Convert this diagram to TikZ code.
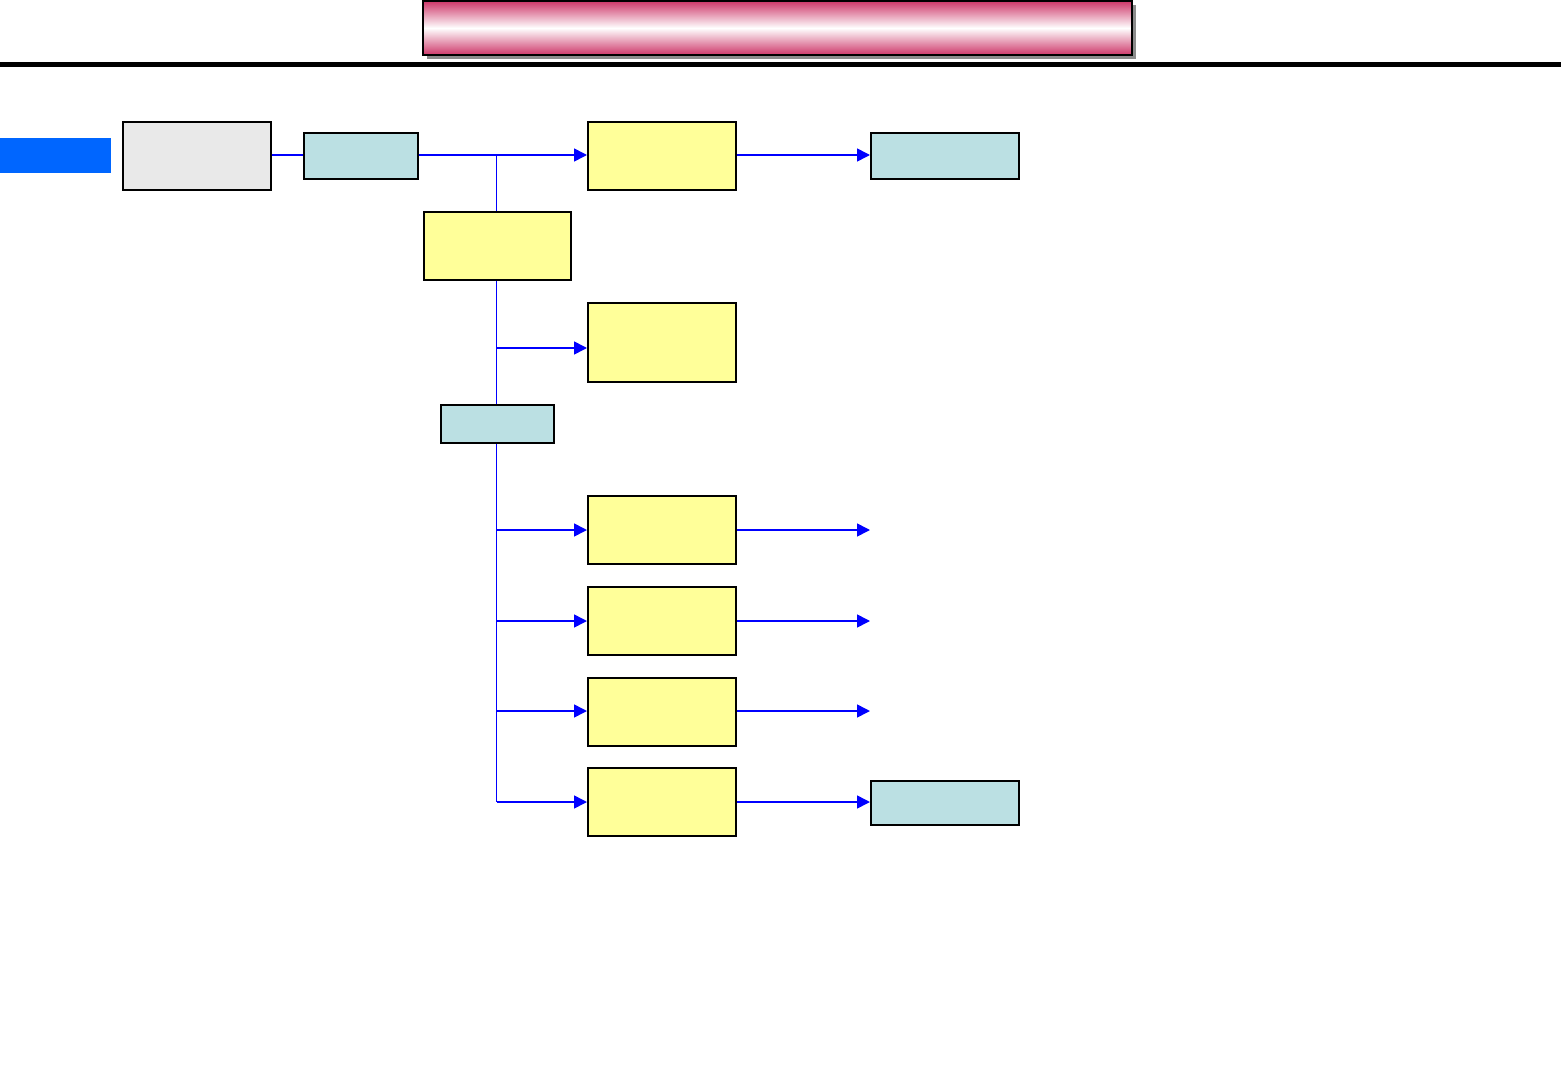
\documentclass[tikz,border=0pt]{standalone}
\usetikzlibrary{arrows.meta}
\definecolor{bandpink}{RGB}{205,55,105}
\definecolor{boxyellow}{RGB}{255,255,153}
\definecolor{boxcyan}{RGB}{187,224,227}
\definecolor{boxgray}{RGB}{233,233,233}
\definecolor{tabblue}{RGB}{0,102,255}
\definecolor{linkblue}{RGB}{0,0,255}
\begin{document}
\begin{tikzpicture}[x=1pt,y=-1pt,
  boxbase/.style={draw=black,line width=1.8pt,inner sep=0pt,anchor=north west},
  ybox/.style={boxbase,fill=boxyellow,minimum width=148pt,minimum height=68pt},
  cbox/.style={boxbase,fill=boxcyan},
  link/.style={draw=linkblue,line width=1.6pt},
  vlink/.style={draw=linkblue,line width=1.1pt},
  arr/.style={link,-{Triangle[length=13pt,width=13pt]}}]
\useasboundingbox (0,0) rectangle (1561,1081);
% banner
\fill[gray!90] (427,5) rectangle (1136,59);
\shade[top color=bandpink,bottom color=bandpink,middle color=white] (423,1) rectangle (1132,55);
\draw[line width=1.6pt] (423,1) rectangle (1132,55);
\fill (0,62.5) rectangle (1561,67.5);
% left tab
\fill[tabblue] (0,138) rectangle (111,173);
% helper coordinates (trunk at x=496.5)
\coordinate (j1) at (496.5,155);
\coordinate (b3) at (496.5,348);
\coordinate (b4) at (496.5,530);
\coordinate (b5) at (496.5,621);
\coordinate (b6) at (496.5,711);
\coordinate (b7) at (496.5,802);
\coordinate (e4) at (870,530);
\coordinate (e5) at (870,621);
\coordinate (e6) at (870,711);
% nodes
\node[boxbase,fill=boxgray,minimum width=148pt,minimum height=68pt] (g) at (122,121) {};
\node[cbox,minimum width=114pt,minimum height=46pt] (c1) at (303,132) {};
\node[ybox] (y1) at (587,121) {};
\node[cbox,minimum width=148pt,minimum height=46pt] (c2) at (870,132) {};
\node[ybox,minimum width=147pt] (y2) at (423,211) {};
\node[ybox,minimum height=79pt] (y3) at (587,302) {};
\node[cbox,minimum width=113pt,minimum height=38pt] (c3) at (440,404) {};
\node[ybox] (y4) at (587,495) {};
\node[ybox] (y5) at (587,586) {};
\node[ybox] (y6) at (587,677) {};
\node[ybox] (y7) at (587,767) {};
\node[cbox,minimum width=148pt,minimum height=44pt] (c4) at (870,780) {};
% connectors
\draw[link] (j1 -| g.east) -- (j1 -| c1.west);
\draw[arr] (j1 -| c1.east) -- (j1 -| y1.west);
\draw[arr] (j1 -| y1.east) -- (j1 -| c2.west);
\draw[vlink] (j1) -- (j1 |- y2.north);
\draw[vlink] (j1 |- y2.south) -- (j1 |- c3.north);
\draw[arr] (b3) -- (b3 -| y3.west);
\draw[vlink] (j1 |- c3.south) -- (b7);
\draw[arr] (b4) -- (b4 -| y4.west);
\draw[arr] (b5) -- (b5 -| y5.west);
\draw[arr] (b6) -- (b6 -| y6.west);
\draw[arr] (b7) -- (b7 -| y7.west);
\draw[arr] (b4 -| y4.east) -- (e4);
\draw[arr] (b5 -| y5.east) -- (e5);
\draw[arr] (b6 -| y6.east) -- (e6);
\draw[arr] (b7 -| y7.east) -- (b7 -| c4.west);
\end{tikzpicture}
\end{document}
